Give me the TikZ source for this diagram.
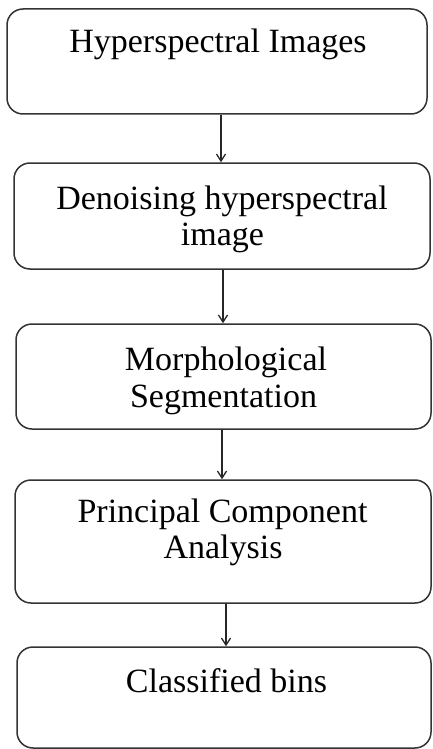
\documentclass[tikz,border=0pt]{standalone}
\usepackage{fontspec}
\setmainfont{Liberation Serif}
\usetikzlibrary{arrows.meta}
\begin{document}
\begin{tikzpicture}[x=1pt,y=-1pt,
  box/.style={draw=black!80, line width=1.5pt, rounded corners=16pt, inner sep=0pt},
  lbl/.style={anchor=base, inner sep=0pt, font=\fontsize{34}{37}\selectfont},
  arr/.style={draw=black!85, line width=1.3pt, -{Straight Barb[length=7pt,width=9pt]}}]
\useasboundingbox (0,0) rectangle (432,749);
% boxes
\node[box, minimum width=420pt, minimum height=105pt] (b1) at (217,61.5) {};
\node[box, minimum width=416pt, minimum height=106pt] (b2) at (222,216) {};
\node[box, minimum width=415pt, minimum height=105pt] (b3) at (223.5,376.5) {};
\node[box, minimum width=416pt, minimum height=123pt] (b4) at (223,541.5) {};
\node[box, minimum width=414pt, minimum height=101pt] (b5) at (224,697.5) {};
% labels
\node[lbl] (t1) at (218,53) {Hyperspectral Images};
\node[lbl] (t2a) at (222,209) {Denoising hyperspectral};
\node[lbl] (t2b) at (222.5,245) {image};
\node[lbl] (t3a) at (226,370) {Morphological};
\node[lbl] (t3b) at (223.5,407) {Segmentation};
\node[lbl] (t4a) at (222.5,522) {Principal Component};
\node[lbl] (t4b) at (223,558) {Analysis};
\node[lbl] (t5) at (226.5,692) {Classified bins};
% arrow x positions
\coordinate (a1) at (221,0);
\coordinate (a2) at (223,0);
\coordinate (a3) at (222,0);
\coordinate (a4) at (226,0);
\draw[arr] (b1.south -| a1) -- (b2.north -| a1);
\draw[arr] (b2.south -| a2) -- (b3.north -| a2);
\draw[arr] (b3.south -| a3) -- (b4.north -| a3);
\draw[arr] (b4.south -| a4) -- (b5.north -| a4);
\end{tikzpicture}
\end{document}
